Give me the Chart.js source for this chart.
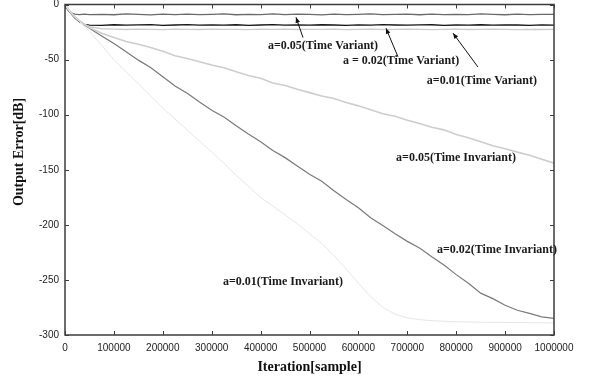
<!DOCTYPE html>
<html><head><meta charset="utf-8">
<script src="https://cdn.jsdelivr.net/npm/chart.js@4.4.1/dist/chart.umd.min.js"></script>
<style>html,body{margin:0;padding:0;background:#fff}</style>
</head><body>
<canvas id="c" width="592" height="380" style="display:block;width:592px;height:380px"></canvas>
<script>
const iterations=[0,5000,10000,20000,30000,40000,50000,75000,100000,125000,150000,175000,200000,225000,250000,275000,300000,325000,350000,375000,400000,425000,450000,475000,500000,525000,550000,575000,600000,625000,650000,675000,700000,725000,750000,775000,800000,825000,850000,875000,900000,925000,950000,975000,1000000];

const tvA005=[0,-4.5,-7.2,-8.8,-9.1,-8.7,-9.2,-8.9,-9.3,-8.6,-9.0,-9.4,-8.8,-9.1,-8.7,-9.2,-9.0,-8.6,-9.3,-8.9,-9.1,-8.5,-9.2,-8.8,-9.0,-9.4,-8.7,-9.1,-8.9,-8.6,-9.2,-9.0,-8.8,-9.3,-8.7,-9.1,-8.9,-9.2,-8.6,-9.0,-9.3,-8.8,-9.1,-8.9,-9.0];
const tvA002=[0,-3.5,-7,-12,-15.8,-18,-18.7,-18.9,-18.4,-18.8,-18.5,-18.2,-18.9,-18.6,-18.3,-18.8,-18.5,-18.7,-18.4,-18.9,-18.6,-18.3,-18.7,-18.5,-18.8,-18.4,-18.6,-18.9,-18.5,-18.7,-18.3,-18.6,-18.8,-18.5,-18.4,-18.9,-18.6,-18.7,-18.4,-18.8,-18.5,-18.6,-18.9,-18.5,-18.7];
const tvA001=[0,-3,-6,-11,-15,-18,-20,-22,-22.4,-22.7,-22.3,-22.6,-22.8,-22.4,-22.5,-22.7,-22.3,-22.6,-22.5,-22.8,-22.4,-22.6,-22.3,-22.7,-22.5,-22.6,-22.4,-22.8,-22.5,-22.3,-22.7,-22.6,-22.4,-22.5,-22.8,-22.6,-22.3,-22.7,-22.5,-22.4,-22.6,-22.8,-22.5,-22.7,-22.6];
const tiA005=[0,-3,-6,-11,-15,-18,-21,-26,-30,-33.5,-36,-39,-42.5,-46.6,-49,-52,-55,-57.4,-61,-64.5,-67,-71.2,-73.5,-77,-80,-83,-85.3,-89,-92,-95.5,-99.2,-101.5,-105,-108,-111.5,-113.8,-118,-121,-124.5,-128.3,-131,-134,-136.8,-140.5,-144];
const tiA002=[0,-3.5,-7,-12,-15.5,-18.5,-21.5,-28.5,-35.5,-43,-50.5,-57.2,-65.5,-74,-80.5,-88.5,-96,-102.2,-110,-117.5,-124.5,-132.6,-139,-146.5,-154,-160.4,-169,-177,-184.5,-193.6,-200.5,-208,-215,-221,-229,-236.5,-245.2,-253,-262,-267,-273,-277.5,-280.4,-283.5,-285];
const tiA001=[0,-3.5,-7,-11.5,-15.5,-20,-24.5,-37,-50,-61,-72,-83,-94,-104,-114,-124,-134,-144,-155,-165,-175,-183,-191,-199,-208,-217,-228,-240,-253,-265,-275,-281,-284.5,-286,-287,-287.5,-288,-288.2,-288.4,-288.5,-288.6,-288.7,-288.8,-288.9,-289];

const xTicks=[0,100000,200000,300000,400000,500000,600000,700000,800000,900000,1000000];
const yTicks=[0,-50,-100,-150,-200,-250,-300];

const labelTexts=["a=0.05(Time Variant)","a = 0.02(Time Variant)","a=0.01(Time Variant)","a=0.05(Time Invariant)","a=0.02(Time Invariant)","a=0.01(Time Invariant)"];
const labelX=[415000,568500,740000,677000,760700,323000];
const labelY=[-38,-51.4,-69.5,-139.5,-223,-252];

const arrowFromX=[486700,681000,844600];
const arrowFromY=[-30,-47.5,-56.8];
const arrowToX=[472400,656400,793500];
const arrowToY=[-11.6,-21.6,-26];

function pts(vals){return iterations.map((x,i)=>({x:x,y:vals[i]}));}

const overlay={
  id:'overlay',
  afterDraw(chart){
    const {ctx,chartArea:a,scales:{x,y}}=chart;
    ctx.save();
    ctx.strokeStyle='#3c3c3c';ctx.lineWidth=1.5;
    ctx.strokeRect(a.left,a.top,a.right-a.left,a.bottom-a.top);
    ctx.lineWidth=1;ctx.beginPath();
    xTicks.forEach(v=>{const p=Math.round(x.getPixelForValue(v))+0.5;ctx.moveTo(p,a.bottom);ctx.lineTo(p,a.bottom-4);ctx.moveTo(p,a.top);ctx.lineTo(p,a.top+4);});
    yTicks.forEach(v=>{const p=Math.round(y.getPixelForValue(v))+0.5;ctx.moveTo(a.left,p);ctx.lineTo(a.left+4,p);ctx.moveTo(a.right,p);ctx.lineTo(a.right-4,p);});
    ctx.stroke();
    ctx.fillStyle='#1a1a1a';ctx.font='bold 12px "Liberation Serif"';ctx.textAlign='left';ctx.textBaseline='middle';
    labelTexts.forEach((t,i)=>ctx.fillText(t,x.getPixelForValue(labelX[i]),y.getPixelForValue(labelY[i])));
    ctx.strokeStyle='#111';ctx.fillStyle='#111';ctx.lineWidth=1;
    arrowFromX.forEach((fx,i)=>{
      const x1=x.getPixelForValue(fx),y1=y.getPixelForValue(arrowFromY[i]);
      const x2=x.getPixelForValue(arrowToX[i]),y2=y.getPixelForValue(arrowToY[i]);
      ctx.beginPath();ctx.moveTo(x1,y1);ctx.lineTo(x2,y2);ctx.stroke();
      const ang=Math.atan2(y2-y1,x2-x1),L=6,W=0.4;
      ctx.beginPath();ctx.moveTo(x2,y2);
      ctx.lineTo(x2-L*Math.cos(ang-W),y2-L*Math.sin(ang-W));
      ctx.lineTo(x2-L*Math.cos(ang+W),y2-L*Math.sin(ang+W));
      ctx.closePath();ctx.fill();
    });
    ctx.save();
    ctx.translate(19,152);ctx.rotate(-Math.PI/2);
    ctx.font='bold 14px "Liberation Serif"';ctx.textAlign='center';ctx.textBaseline='middle';ctx.fillStyle='#111';
    ctx.fillText('Output Error[dB]',0,0);
    ctx.restore();
    ctx.restore();
  }
};

const ds=(label,vals,color,w)=>({label:label,data:pts(vals),borderColor:color,borderWidth:w,pointRadius:0,tension:0,fill:false});

new Chart(document.getElementById('c'),{
  type:'line',
  data:{datasets:[
    ds('a=0.01(Time Invariant)',tiA001,'#e6e6e6',1),
    ds('a=0.05(Time Invariant)',tiA005,'#cdcdcd',1.6),
    ds('a=0.01(Time Variant)',tvA001,'#cccccc',1.3),
    ds('a=0.02(Time Invariant)',tiA002,'#7a7a7a',1.2),
    ds('a=0.05(Time Variant)',tvA005,'#6a6a6a',1.3),
    ds('a=0.02(Time Variant)',tvA002,'#151515',1.3)
  ]},
  options:{
    responsive:false,devicePixelRatio:1,animation:false,
    layout:{padding:{top:4.5,right:38,left:0,bottom:0}},
    plugins:{legend:{display:false},tooltip:{enabled:false}},
    scales:{
      x:{type:'linear',min:0,max:1000000,
        afterBuildTicks:s=>{s.ticks=xTicks.map(v=>({value:v}));},
        afterFit:s=>{s.height=45;s.paddingLeft=0;s.paddingRight=0;},
        ticks:{callback:v=>String(v),font:{family:'Liberation Sans',size:10},color:'#222',padding:7,maxRotation:0,autoSkip:false},
        grid:{display:false,drawTicks:false},border:{display:false},
        title:{display:true,text:'Iteration[sample]',font:{family:'Liberation Serif',weight:'bold',size:14},color:'#111',padding:{top:0,bottom:4}}
      },
      y:{type:'linear',min:-300,max:0,
        afterBuildTicks:s=>{s.ticks=yTicks.map(v=>({value:v}));},
        afterFit:s=>{s.width=65;s.paddingTop=0;s.paddingBottom=0;},
        ticks:{callback:v=>String(v),font:{family:'Liberation Sans',size:10},color:'#222',padding:6,autoSkip:false},
        grid:{display:false,drawTicks:false},border:{display:false}
      }
    }
  },
  plugins:[overlay]
});
</script>
</body></html>
